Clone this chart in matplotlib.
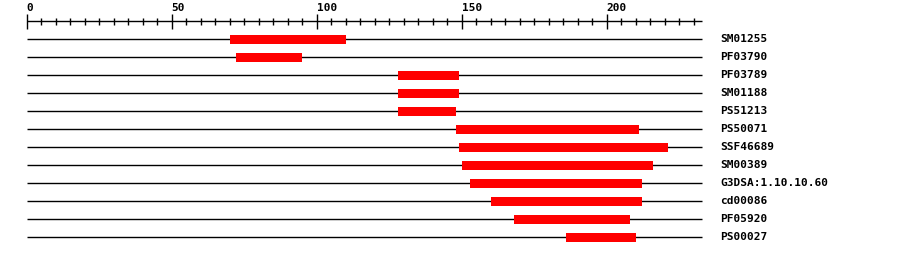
import matplotlib
matplotlib.use('Agg')
import matplotlib.pyplot as plt

# domain hits on the sequence (start, end in residues)
names = ['SM01255', 'PF03790', 'PF03789', 'SM01188', 'PS51213', 'PS50071',
         'SSF46689', 'SM00389', 'G3DSA:1.10.10.60', 'cd00086', 'PF05920', 'PS00027']
starts = [70, 72, 128, 128, 128, 148, 149, 150, 153, 160, 168, 186]
ends = [110, 95, 149, 149, 148, 211, 221, 216, 212, 212, 208, 210]
seq_len = 233
tick_step = 5
label_step = 50

px_per_res = 2.9
x0_px = 26.7
row_px = 18.0
row0_px = 39.3
W, H = 900, 256

fig = plt.figure(figsize=(W / 100, H / 100), dpi=100)
ax = fig.add_axes([0, 0, 1, 1])
ax.set_xlim(-x0_px / px_per_res, (W - x0_px) / px_per_res)
ax.set_ylim((H - row0_px) / row_px, -row0_px / row_px)
ax.axis('off')

font = dict(family='DejaVu Sans Mono', fontweight='bold', fontsize=8)

# ruler on top
ruler_y = -1.0
ax.hlines(ruler_y, 0, seq_len, color='black', lw=1.0)
for t in range(0, seq_len, tick_step):
    if t % label_step == 0:
        ax.vlines(t, ruler_y - 7.5 / row_px, ruler_y + 7.5 / row_px, color='black', lw=1.0)
        ax.text(t, ruler_y - 13.3 / row_px, str(t), ha='left', va='center', **font)
    else:
        ax.vlines(t, ruler_y - 3.5 / row_px, ruler_y + 3.5 / row_px, color='black', lw=1.0)

rows = list(range(len(names)))
ax.hlines(rows, 0, seq_len, color='black', lw=1.0, zorder=1)
ax.barh(rows, [e - s for s, e in zip(starts, ends)], left=starts, height=9 / row_px,
        color='#ff0000', linewidth=0, zorder=3)
for r, n in zip(rows, names):
    ax.text(seq_len + 6.2, r, n, ha='left', va='center', **font)

fig.savefig('out.png', dpi=100)
